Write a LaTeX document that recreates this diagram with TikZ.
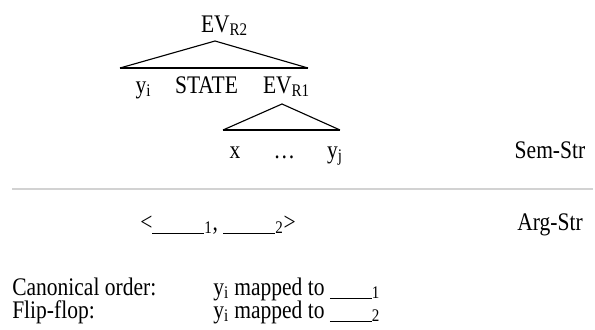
\documentclass[tikz,border=0pt]{standalone}
\usepackage{fontspec}
\setmainfont[FakeStretch=0.85]{Liberation Serif}
\newcommand{\slot}[1]{\rule[-3pt]{#1}{0.7pt}}

\begin{document}
\begin{tikzpicture}[x=0.025cm, y=-0.025cm,
    every node/.style={font=\fontsize{18}{20}\selectfont, inner sep=0pt},
    tri/.style={thick, line join=round}]
    \useasboundingbox (0,0) rectangle (595,330);

    % Upper event and its triangle
    \node[anchor=base] (evtwo) at (224.5,32) {EV\textsubscript{R2}};
    \coordinate (topA) at (215,41);
    \coordinate (leftA) at (120,68);
    \coordinate (rightA) at (308,68);
    \draw[tri] (leftA) -- (topA) -- (rightA);
    \draw[line width=1.3pt] (leftA) -- (rightA);

    % Daughters of the upper event
    \node[anchor=base] (yi) at (143.5,93) {y\textsubscript{i}};
    \node[anchor=base] (state) at (206.5,93) {STATE};
    \node[anchor=base] (evone) at (286.5,93) {EV\textsubscript{R1}};

    % Lower triangle under the embedded event
    \coordinate (topB) at (282,104);
    \coordinate (leftB) at (223,130);
    \coordinate (rightB) at (340,130);
    \draw[tri] (leftB) -- (topB) -- (rightB);
    \draw[line width=1.3pt] (leftB) -- (rightB);

    % Daughters of the embedded event
    \node[anchor=base] (x) at (235,158) {x};
    \node[anchor=base] (dots) at (284.5,158) {\dots};
    \node[anchor=base] (yj) at (335,158) {y\textsubscript{j}};
    \node[anchor=base] (semstr) at (550,158) {Sem-Str};

    % Divider between the two levels
    \coordinate (divL) at (12,189);
    \coordinate (divR) at (593,189);
    \draw[line width=2pt, gray!35] (divL) -- (divR);

    % Argument structure
    \node[anchor=base west] (args) at (140,230)
      {<\slot{1.3cm}\textsubscript{1}, \slot{1.3cm}\textsubscript{2}>};
    \node[anchor=base] (argstr) at (550,230) {Arg-Str};

    % Mappings
    \node[anchor=base west] (canon) at (12,295) {Canonical order:};
    \node[anchor=base west] (mapone) at (213,295)
      {y\textsubscript{i} mapped to \slot{1.05cm}\textsubscript{1}};
    \node[anchor=base west] (flip) at (12,318) {Flip-flop:};
    \node[anchor=base west] (maptwo) at (213,318)
      {y\textsubscript{i} mapped to \slot{1.05cm}\textsubscript{2}};
\end{tikzpicture}
\end{document}
